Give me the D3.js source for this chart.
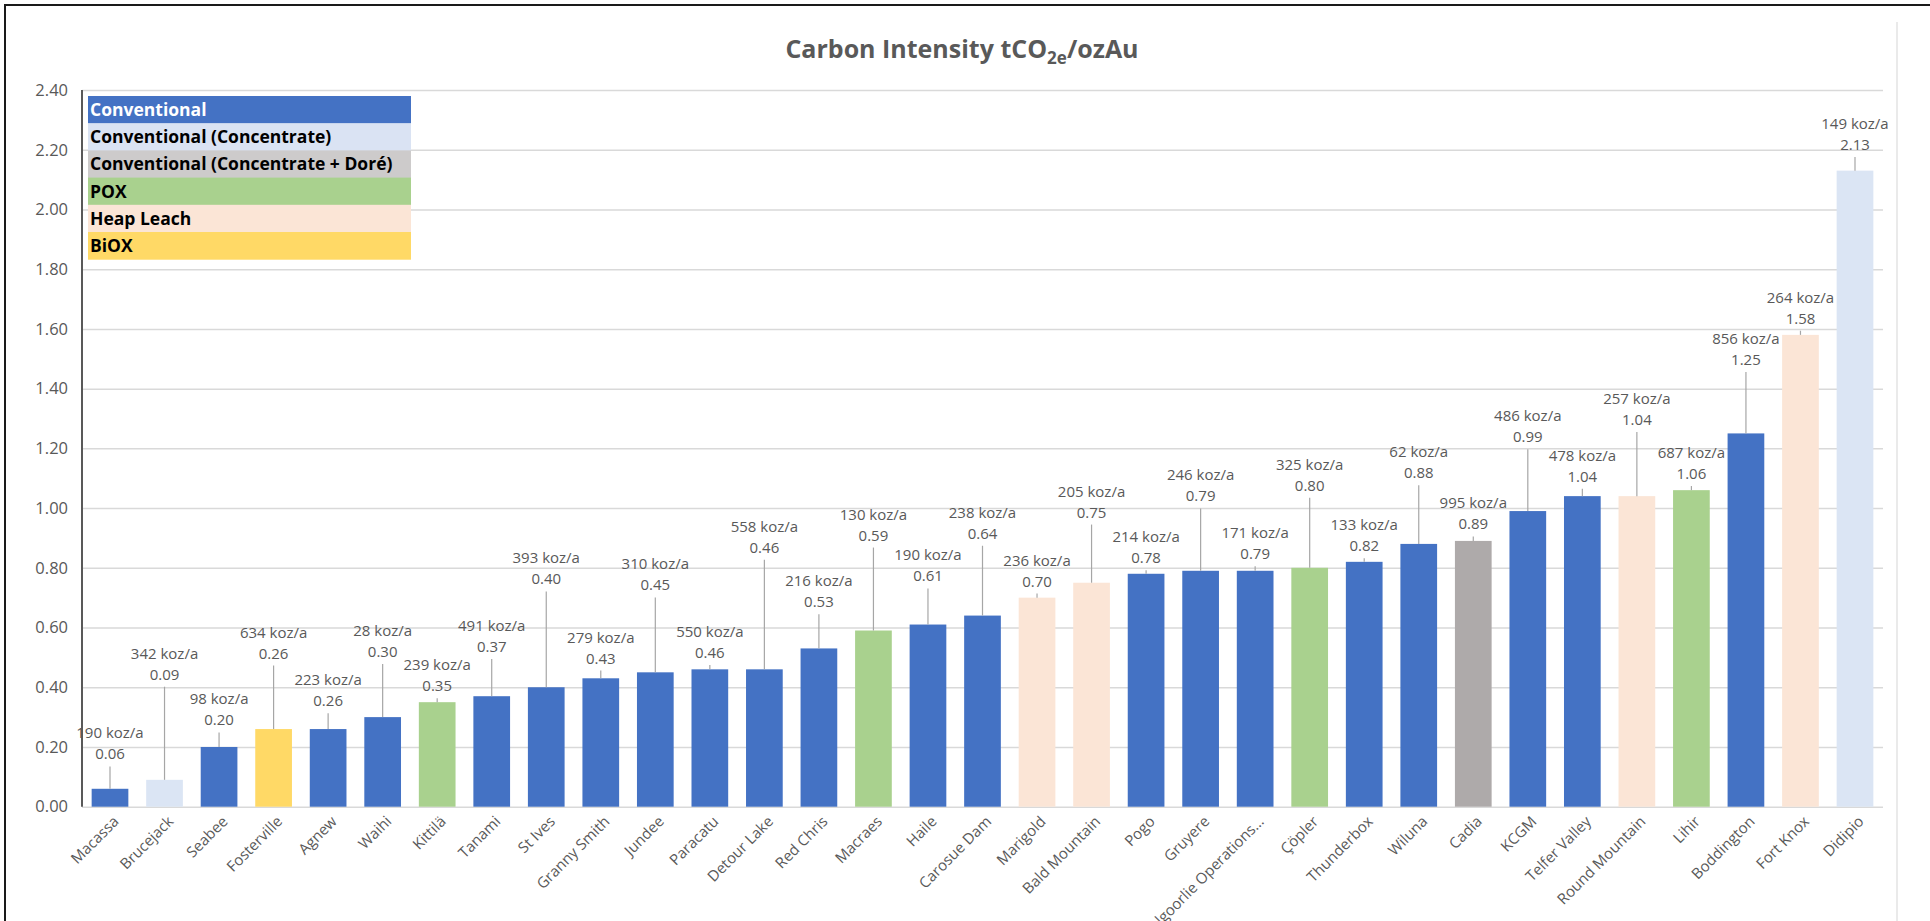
<!DOCTYPE html>
<html>
<head>
<meta charset="utf-8">
<script src="https://cdn.jsdelivr.net/npm/d3@7"></script>
<style>
  html, body { margin: 0; padding: 0; background: #ffffff; }
  svg { display: block; }
  text { font-family: "Open Sans", "Noto Sans", sans-serif; }
</style>
</head>
<body>
<svg id="chart" width="1930" height="921"></svg>
<script>
// ---- data ----
const sites = ["Macassa","Brucejack","Seabee","Fosterville","Agnew","Waihi","Kittilä","Tanami","St Ives","Granny Smith","Jundee","Paracatu","Detour Lake","Red Chris","Macraes","Haile","Carosue Dam","Marigold","Bald Mountain","Pogo","Gruyere","Kalgoorlie Operations...","Çöpler","Thunderbox","Wiluna","Cadia","KCGM","Telfer Valley","Round Mountain","Lihir","Boddington","Fort Knox","Didipio"];
const intensity = [0.06,0.09,0.20,0.26,0.26,0.30,0.35,0.37,0.40,0.43,0.45,0.46,0.46,0.53,0.59,0.61,0.64,0.70,0.75,0.78,0.79,0.79,0.80,0.82,0.88,0.89,0.99,1.04,1.04,1.06,1.25,1.58,2.13];
const production = [190,342,98,634,223,28,239,491,393,279,310,550,558,216,130,190,238,236,205,214,246,171,325,133,62,995,486,478,257,687,856,264,149];
const siteProcess = ["Conventional","Conventional (Concentrate)","Conventional","BiOX","Conventional","Conventional","POX","Conventional","Conventional","Conventional","Conventional","Conventional","Conventional","Conventional","POX","Conventional","Conventional","Heap Leach","Heap Leach","Conventional","Conventional","Conventional","POX","Conventional","Conventional","Conventional (Concentrate + Doré)","Conventional","Conventional","Heap Leach","POX","Conventional","Heap Leach","Conventional (Concentrate)"];
// value (tCO2e/ozAu) at which each data label's value line sits
const labelAnchor = [0.175,0.442,0.289,0.513,0.353,0.518,0.403,0.535,0.761,0.496,0.741,0.515,0.867,0.685,0.908,0.771,0.914,0.754,0.985,0.832,1.039,0.845,1.075,0.872,1.117,0.945,1.237,1.105,1.295,1.114,1.496,1.634,2.216];
const processes = ["Conventional","Conventional (Concentrate)","Conventional (Concentrate + Doré)","POX","Heap Leach","BiOX"];
const barColors = ["#4472C4","#DBE5F4","#AEAAAA","#A9D18E","#FBE5D6","#FFD966"];
const legendColors = ["#4472C4","#DAE3F3","#CDCBCB","#A9D18E","#FBE5D6","#FFD966"];
const yTicks = [0,0.2,0.4,0.6,0.8,1.0,1.2,1.4,1.6,1.8,2.0,2.2,2.4];

// ---- layout ----
const svg = d3.select("#chart");
const plotL = 82, plotR = 1883, plotT = 90, plotB = 806.7;

const x = d3.scaleBand().domain(sites).range([plotL, plotR]).paddingInner(0.327).paddingOuter(0.177);
const y = d3.scaleLinear().domain([0, 2.4]).range([plotB, plotT]);
const fill = d3.scaleOrdinal().domain(processes).range(barColors);
const legendFill = d3.scaleOrdinal().domain(processes).range(legendColors);

// frame
svg.append("rect").attr("x", 5).attr("y", 5).attr("width", 1940).attr("height", 940)
  .attr("fill", "none").attr("stroke", "#1a1a1a").attr("stroke-width", 2);
svg.append("line").attr("x1", 1897).attr("x2", 1897).attr("y1", 22).attr("y2", 921)
  .attr("stroke", "#e3e3e3").attr("stroke-width", 1.5);

// title
const title = svg.append("text").attr("x", 962).attr("y", 58).attr("text-anchor", "middle")
  .attr("font-size", 25).attr("font-weight", 700).attr("fill", "#595959");
title.append("tspan").text("Carbon Intensity tCO");
title.append("tspan").attr("font-size", 17).attr("dy", 6).text("2e");
title.append("tspan").attr("dy", -6).text("/ozAu");

// gridlines + y axis
const yAxis = d3.axisLeft(y).tickValues(yTicks).tickFormat(d3.format(".2f")).tickSize(-(plotR - plotL)).tickPadding(14);
const gy = svg.append("g").attr("transform", `translate(${plotL},0)`).call(yAxis);
gy.select(".domain").remove();
gy.selectAll(".tick line").attr("stroke", "#d9d9d9").attr("stroke-width", 1.5);
gy.selectAll(".tick text").attr("font-size", 16.5).attr("fill", "#595959")
  .style("font-family", '"Open Sans", "Noto Sans", sans-serif');
svg.append("line").attr("x1", plotL).attr("x2", plotL).attr("y1", y(2.4)).attr("y2", y(0))
  .attr("stroke", "#595959").attr("stroke-width", 2);

// bars
svg.append("g").selectAll("rect").data(sites).join("rect")
  .attr("x", d => x(d)).attr("width", x.bandwidth())
  .attr("y", (d, i) => y(intensity[i])).attr("height", (d, i) => y(0) - y(intensity[i]))
  .attr("fill", (d, i) => fill(siteProcess[i]));

// leader lines
svg.append("g").selectAll("line").data(sites).join("line")
  .attr("x1", d => x(d) + x.bandwidth() / 2).attr("x2", d => x(d) + x.bandwidth() / 2)
  .attr("y1", (d, i) => y(labelAnchor[i]) + 12).attr("y2", (d, i) => y(intensity[i]))
  .attr("stroke", "#a6a6a6").attr("stroke-width", 1.2)
  .attr("display", (d, i) => (y(intensity[i]) - (y(labelAnchor[i]) + 12) > 3 ? null : "none"));

// data labels
const lab = svg.append("g").selectAll("text").data(sites).join("text")
  .attr("text-anchor", "middle").attr("font-size", 15).attr("fill", "#595959");
lab.append("tspan").attr("x", d => x(d) + x.bandwidth() / 2)
  .attr("y", (d, i) => y(labelAnchor[i]) + 5 - 21).text((d, i) => `${production[i]} koz/a`);
lab.append("tspan").attr("x", d => x(d) + x.bandwidth() / 2)
  .attr("y", (d, i) => y(labelAnchor[i]) + 5).text((d, i) => intensity[i].toFixed(2));

// x axis labels
const xAxis = d3.axisBottom(x).tickSize(0).tickPadding(0);
const gx = svg.append("g").attr("transform", `translate(0,${plotB})`).call(xAxis);
gx.select(".domain").remove();
gx.selectAll(".tick text")
  .attr("font-size", 15).attr("fill", "#595959")
  .style("font-family", '"Open Sans", "Noto Sans", sans-serif')
  .attr("text-anchor", "end").attr("dy", "0.35em")
  .attr("transform", "translate(6,12) rotate(-45)")
  .attr("y", 0).attr("x", 0);

// legend
const lg = svg.append("g").attr("transform", "translate(88,96)");
const rowH = 27.2;
lg.selectAll("rect").data(processes).join("rect")
  .attr("x", 0).attr("y", (d, i) => i * rowH).attr("width", 323).attr("height", rowH + 0.5)
  .attr("fill", d => legendFill(d));
lg.selectAll("text").data(processes).join("text")
  .attr("x", 2).attr("y", (d, i) => i * rowH + 20)
  .attr("font-size", 17.5).attr("font-weight", 700)
  .attr("fill", (d, i) => (i === 0 ? "#ffffff" : "#000000"))
  .text(d => d);
</script>
</body>
</html>
